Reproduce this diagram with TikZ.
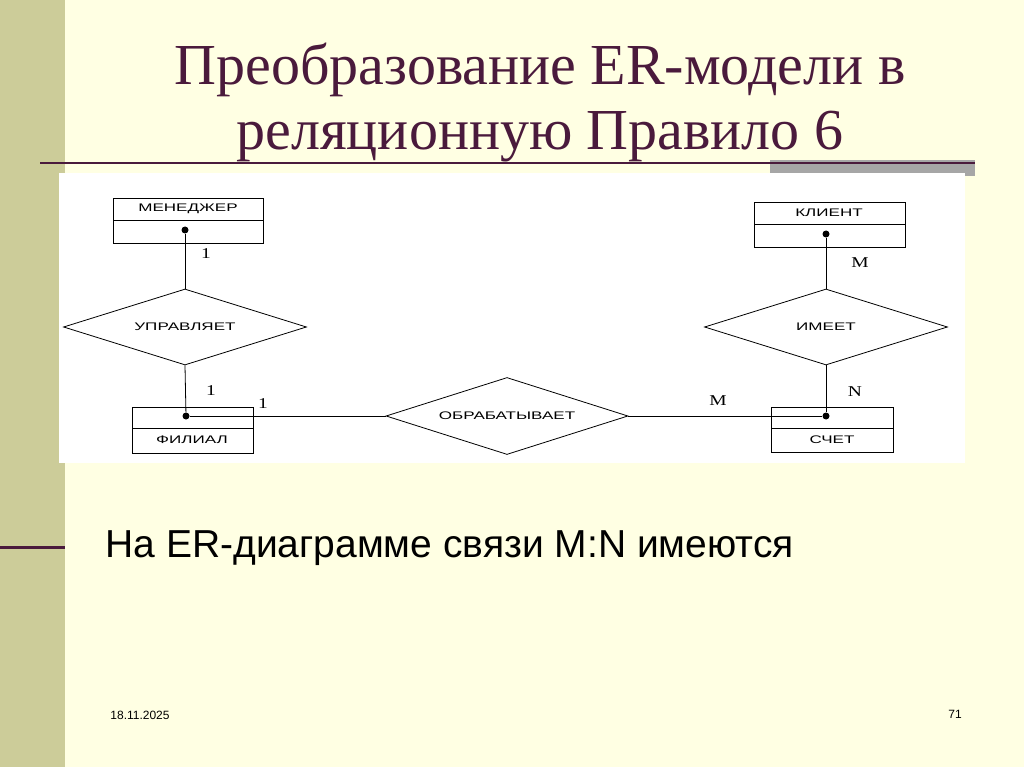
\documentclass[tikz,border=0pt]{standalone}
\usepackage{fontspec}
\setmainfont{Liberation Serif}
\newfontfamily\arialf{Liberation Sans}
\usetikzlibrary{shapes.geometric}
\definecolor{bg}{HTML}{FFFFE3}
\definecolor{bar}{HTML}{CCCC99}
\definecolor{maroon}{HTML}{4A1A3C}
\newcommand{\wide}[1]{\scalebox{1.55}[1]{#1}}
\newcommand{\cwide}[1]{\scalebox{1.3}[1]{#1}}
\begin{document}
\begin{tikzpicture}[x=1pt,y=-1pt,
  ent/.style={draw,line width=0.8pt,inner sep=0pt},
  rel/.style={draw,line width=0.8pt,diamond,aspect=3.2,inner sep=0pt,font=\arialf\fontsize{11}{12}\selectfont},
  elab/.style={font=\arialf\fontsize{11}{12}\selectfont},
  card/.style={font=\fontsize{15}{15}\selectfont},
  dotn/.style={circle,fill,inner sep=0pt,minimum size=7pt},
  conn/.style={line width=0.8pt}]
\fill[bg] (0,0) rectangle (1024,767);
\useasboundingbox (0,0) rectangle (1024,767);
\fill[bar] (0,0) rectangle (65,767);
\fill[gray!70] (770,160) rectangle (975,176);
\draw[maroon,line width=2.5pt] (40,163) -- (975,163);
\draw[maroon,line width=3pt] (0,547) -- (65,547);
\node[maroon,font=\fontsize{58}{65}\selectfont,align=center] (title) at (540,103) {Преобразование ER-модели в\\реляционную Правило 6};
\fill[white] (59,173) rectangle (965,463);
% entities
\draw[ent] (113,198) rectangle (263,243); \draw[conn] (113,220) -- (263,220);
\node[elab] (men) at (188,209) {\wide{МЕНЕДЖЕР}};
\draw[ent] (754,202) rectangle (905,247); \draw[conn] (754,224) -- (905,224);
\node[elab] (kl) at (829,213) {\wide{КЛИЕНТ}};
\draw[ent] (132,407) rectangle (253,453); \draw[conn] (132,428) -- (253,428);
\node[elab] (fil) at (192,440) {\wide{ФИЛИАЛ}};
\draw[ent] (771,407) rectangle (893,452); \draw[conn] (771,428) -- (893,428);
\node[elab] (sch) at (832,440) {\wide{СЧЕТ}};
\node[dotn] (d1) at (185,230) {};
\node[dotn] (d2) at (826,234) {};
\node[dotn] (d3) at (186,416) {};
\node[dotn] (d4) at (826,416) {};
% relations
\node[rel,minimum width=243pt,minimum height=76pt] (upr) at (185,327) {\wide{УПРАВЛЯЕТ}};
\node[rel,minimum width=243pt,minimum height=76pt] (im) at (826,327) {\wide{ИМЕЕТ}};
\node[rel,minimum width=242pt,minimum height=77pt] (obr) at (507,416) {\wide{ОБРАБАТЫВАЕТ}};
\draw[conn] (d1) -- (upr.north);
\draw[conn] (upr.south) -- (d3);
\draw[conn] (d2) -- (im.north);
\draw[conn] (im.south) -- (d4);
\draw[conn] (d3) -- (obr.west);
\draw[conn] (obr.east) -- (d4);
\node[card] (c1) at (206,254) {\cwide{1}};
\node[card] (c2) at (211,391) {\cwide{1}};
\node[card] (c3) at (263,404) {\cwide{1}};
\node[card] (c4) at (718,401) {\cwide{M}};
\node[card] (c5) at (860,263) {\cwide{M}};
\node[card] (c6) at (855,392) {\cwide{N}};
\node[font=\arialf\fontsize{39}{42}\selectfont,anchor=west] (txt) at (102,548) {На ER-диаграмме связи M:N имеются};
\node[font=\arialf\fontsize{12}{14}\selectfont] (date) at (140,715) {18.11.2025};
\node[font=\arialf\fontsize{12}{14}\selectfont] (pg) at (955,714) {71};
\end{tikzpicture}
\end{document}
